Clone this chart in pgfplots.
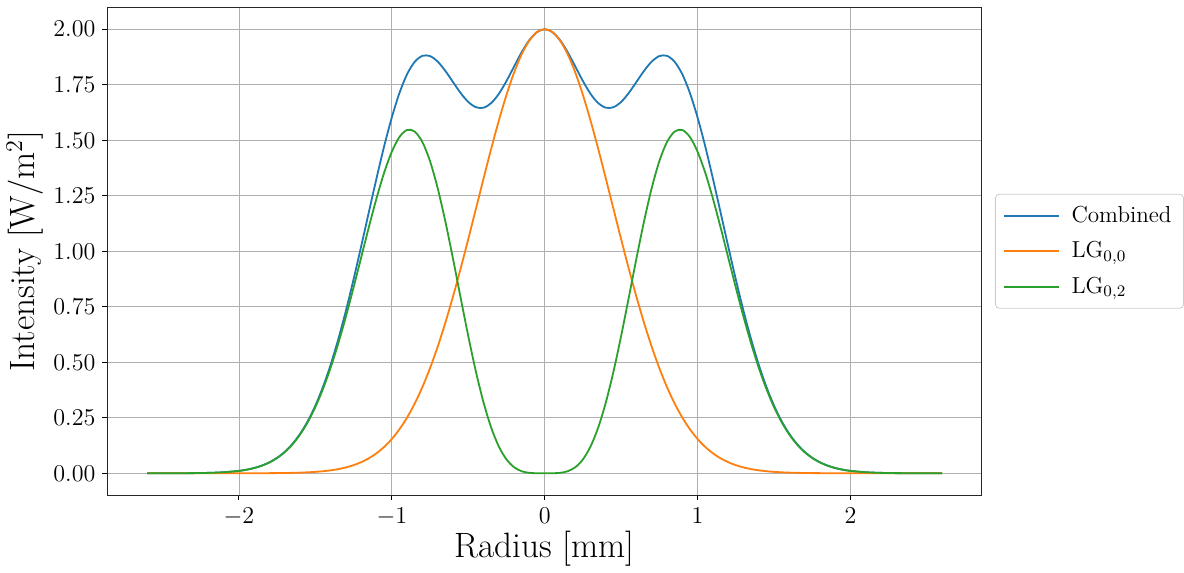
\documentclass[border=0pt]{standalone}
\usepackage{pgfplots}
\pgfplotsset{compat=1.18}
\usepackage{pgfplotstable}
\definecolor{tabblue}{RGB}{31,119,180}
\definecolor{taborange}{RGB}{255,127,14}
\definecolor{tabgreen}{RGB}{44,160,44}

% radius [mm], LG00, LG02, combined
\pgfplotstableread{
x O G C
-2.60 0.0000 0.0000 0.0000
-2.50 0.0000 0.0001 0.0001
-2.40 0.0000 0.0002 0.0002
-2.30 0.0000 0.0007 0.0007
-2.20 0.0000 0.0018 0.0018
-2.10 0.0000 0.0046 0.0046
-2.00 0.0001 0.0107 0.0107
-1.95 0.0001 0.0160 0.0161
-1.90 0.0002 0.0236 0.0238
-1.85 0.0003 0.0343 0.0346
-1.80 0.0005 0.0490 0.0495
-1.75 0.0008 0.0690 0.0697
-1.70 0.0012 0.0956 0.0968
-1.65 0.0019 0.1303 0.1322
-1.60 0.0028 0.1748 0.1777
-1.55 0.0043 0.2304 0.2347
-1.50 0.0063 0.2987 0.3049
-1.45 0.0092 0.3806 0.3898
-1.40 0.0132 0.4763 0.4895
-1.35 0.0188 0.5857 0.6045
-1.30 0.0264 0.7067 0.7330
-1.25 0.0366 0.8376 0.8742
-1.20 0.0501 0.9736 1.0236
-1.15 0.0676 1.1092 1.1769
-1.10 0.0902 1.2386 1.3288
-1.05 0.1188 1.3544 1.4732
-1.00 0.1544 1.4485 1.6029
-0.95 0.1983 1.5147 1.7130
-0.90 0.2513 1.5464 1.7977
-0.85 0.3143 1.5390 1.8533
-0.80 0.3883 1.4919 1.8802
-0.75 0.4736 1.4055 1.8791
-0.70 0.5702 1.2840 1.8542
-0.65 0.6778 1.1347 1.8125
-0.60 0.7955 0.9669 1.7624
-0.55 0.9217 0.7911 1.7128
-0.50 1.0544 0.6181 1.6724
-0.45 1.1908 0.4580 1.6488
-0.40 1.3276 0.3188 1.6464
-0.35 1.4615 0.2057 1.6672
-0.30 1.5883 0.1207 1.7090
-0.25 1.7042 0.0624 1.7666
-0.20 1.8053 0.0271 1.8324
-0.15 1.8880 0.0090 1.8970
-0.10 1.9494 0.0018 1.9513
-0.05 1.9872 0.0001 1.9873
0.00 2.0000 0.0000 2.0000
0.05 1.9872 0.0001 1.9873
0.10 1.9494 0.0018 1.9513
0.15 1.8880 0.0090 1.8970
0.20 1.8053 0.0271 1.8324
0.25 1.7042 0.0624 1.7666
0.30 1.5883 0.1207 1.7090
0.35 1.4615 0.2057 1.6672
0.40 1.3276 0.3188 1.6464
0.45 1.1908 0.4580 1.6488
0.50 1.0544 0.6181 1.6724
0.55 0.9217 0.7911 1.7128
0.60 0.7955 0.9669 1.7624
0.65 0.6778 1.1347 1.8125
0.70 0.5702 1.2840 1.8542
0.75 0.4736 1.4055 1.8791
0.80 0.3883 1.4919 1.8802
0.85 0.3143 1.5390 1.8533
0.90 0.2513 1.5464 1.7977
0.95 0.1983 1.5147 1.7130
1.00 0.1544 1.4485 1.6029
1.05 0.1188 1.3544 1.4732
1.10 0.0902 1.2386 1.3288
1.15 0.0676 1.1092 1.1769
1.20 0.0501 0.9736 1.0236
1.25 0.0366 0.8376 0.8742
1.30 0.0264 0.7067 0.7330
1.35 0.0188 0.5857 0.6045
1.40 0.0132 0.4763 0.4895
1.45 0.0092 0.3806 0.3898
1.50 0.0063 0.2987 0.3049
1.55 0.0043 0.2304 0.2347
1.60 0.0028 0.1748 0.1777
1.65 0.0019 0.1303 0.1322
1.70 0.0012 0.0956 0.0968
1.75 0.0008 0.0690 0.0697
1.80 0.0005 0.0490 0.0495
1.85 0.0003 0.0343 0.0346
1.90 0.0002 0.0236 0.0238
1.95 0.0001 0.0160 0.0161
2.00 0.0001 0.0107 0.0107
2.10 0.0000 0.0046 0.0046
2.20 0.0000 0.0018 0.0018
2.30 0.0000 0.0007 0.0007
2.40 0.0000 0.0002 0.0002
2.50 0.0000 0.0001 0.0001
2.60 0.0000 0.0000 0.0000
}\beams

\begin{document}
\begin{tikzpicture}
\begin{axis}[
    scale only axis,
    width=435pt, height=243pt,
    xmin=-2.86, xmax=2.86, ymin=-0.1, ymax=2.1,
    xtick={-2,-1,0,1,2},
    ytick={0,0.25,...,2.0},
    yticklabel style={/pgf/number format/.cd,fixed,fixed zerofill,precision=2},
    tick label style={font=\fontsize{12}{14}\selectfont},
    xlabel={Radius [mm]}, ylabel={Intensity [W/m$^2$]},
    label style={font=\fontsize{17.5}{20}\selectfont},
    xlabel style={yshift=4pt}, ylabel style={yshift=-2pt},
    grid=major, grid style={color=black!31, line width=0.4pt},
    axis line style={black!85, line width=0.5pt},
    tick align=outside, tick pos=left,
    major tick length=2.5pt,
    every tick/.style={black, line width=0.5pt},
    legend style={at={(1.015,0.5)}, anchor=west, draw=black!20,
      rounded corners=2pt, font=\fontsize{11.5}{14}\selectfont,
      cells={anchor=west}, row sep=4pt, inner xsep=4pt, inner ysep=4pt},
    legend image code/.code={\draw[#1] (0pt,0pt) -- (27pt,0pt); \path (31pt,0pt);},
    every axis plot/.append style={line width=0.9pt, no markers, smooth},
  ]
  \addplot[tabblue] table[x=x, y=C] {\beams};
  \addlegendentry{Combined}
  \addplot[taborange] table[x=x, y=O] {\beams};
  \addlegendentry{LG$_{0,0}$}
  \addplot[tabgreen] table[x=x, y=G] {\beams};
  \addlegendentry{LG$_{0,2}$}
\end{axis}
\path ([yshift=3.5pt]current axis.north west);
\end{tikzpicture}
\end{document}
